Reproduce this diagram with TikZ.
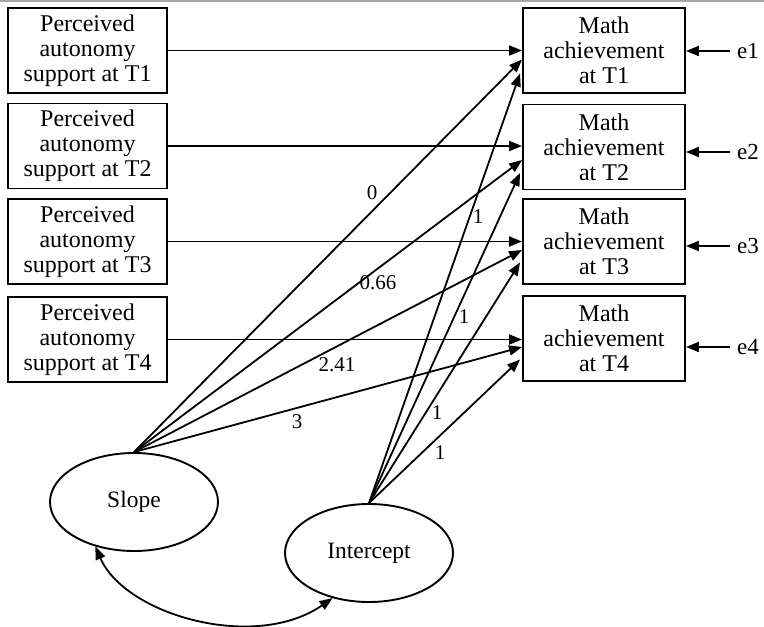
\documentclass[tikz,border=0pt]{standalone}
\usepackage{fontspec}
\setmainfont{Liberation Serif}
\usetikzlibrary{arrows.meta,shapes.geometric}
\begin{document}
\begin{tikzpicture}[x=1pt,y=-1pt,
  box/.style={draw,line width=1.9pt,minimum height=85pt,inner sep=0pt,align=center,
    font=\rmfamily\fontsize{24}{25}\selectfont},
  lbox/.style={box,minimum width=159pt},
  rbox/.style={box,minimum width=162pt},
  latent/.style={draw,ellipse,line width=1.9pt,minimum width=168pt,minimum height=98pt,
    inner sep=0pt,font=\rmfamily\fontsize{23.5}{25}\selectfont},
  arr/.style={-{Triangle[length=13pt,width=10pt]},line width=1.8pt},
  dblarr/.style={{Triangle[length=13pt,width=10pt]}-{Triangle[length=13pt,width=10pt]},line width=1.8pt},
  coef/.style={inner sep=0pt,font=\rmfamily\fontsize{21}{24}\selectfont},
  elab/.style={inner sep=0pt,font=\rmfamily\fontsize{23}{25}\selectfont,anchor=west}
]
\useasboundingbox (0,0) rectangle (764,627);
\draw[gray!70,line width=2pt] (0,1) -- (764,1);

% left boxes
\node[lbox] (L1) at (87.5,50.5) {Perceived\\autonomy\\support at T1};
\node[lbox] (L2) at (87.5,146) {Perceived\\autonomy\\support at T2};
\node[lbox] (L3) at (87.5,241.5) {Perceived\\autonomy\\support at T3};
\node[lbox] (L4) at (87.5,339.5) {Perceived\\autonomy\\support at T4};

% right boxes
\node[rbox] (R1) at (604,50.5) {Math\\achievement\\at T1};
\node[rbox] (R2) at (604,147) {Math\\achievement\\at T2};
\node[rbox] (R3) at (604,241.5) {Math\\achievement\\at T3};
\node[rbox] (R4) at (604,338.5) {Math\\achievement\\at T4};

% latent variables
\node[latent] (S) at (134,502) {Slope};
\node[latent] (I) at (369,553) {Intercept};

% horizontal paths
\draw[arr] (L1.east) -- (L1.east -| R1.west);
\draw[arr] (L2.east) -- (L2.east -| R2.west);
\draw[arr] (L3.east) -- (L3.east -| R3.west);
\draw[arr] (L4.east) -- (L4.east -| R4.west);

% slope paths
\draw[arr] (S.north) -- ([yshift=-9pt]R1.west);
\draw[arr] (S.north) -- ([yshift=-13pt]R2.west);
\draw[arr] (S.north) -- ([yshift=-8.5pt]R3.west);
\draw[arr] (S.north) -- ([yshift=-8.5pt]R4.west);

% intercept paths
\draw[arr] (I.north) -- ([xshift=-2pt,yshift=-23pt]R1.west);
\draw[arr] (I.north) -- ([xshift=-2pt,yshift=-26pt]R2.west);
\draw[arr] (I.north) -- ([xshift=-2pt,yshift=-21pt]R3.west);
\draw[arr] (I.north) -- ([xshift=-2pt,yshift=-21pt]R4.west);

% coefficients
\node[coef] (c0) at (372,193) {0};
\node[coef] (c066) at (378,283) {0.66};
\node[coef] (c241) at (337,365) {2.41};
\node[coef] (c3) at (297,422) {3};
\node[coef] (i1) at (478,217) {1};
\node[coef] (i2) at (464,317) {1};
\node[coef] (i3) at (437,413) {1};
\node[coef] (i4) at (440,453) {1};

% errors
\node[elab] (e1) at (737,51) {e1};
\node[elab] (e2) at (737,152) {e2};
\node[elab] (e3) at (737,246) {e3};
\node[elab] (e4) at (737,347) {e4};
\draw[arr] ([xshift=-7pt]e1.west) -- (e1.west -| R1.east);
\draw[arr] ([xshift=-7pt]e2.west) -- (e2.west -| R2.east);
\draw[arr] ([xshift=-7pt]e3.west) -- (e3.west -| R3.east);
\draw[arr] ([xshift=-7pt]e4.west) -- (e4.west -| R4.east);

% covariance
\draw[dblarr] (S.229) .. controls (125,615) and (255,652) .. (I.231);
\end{tikzpicture}
\end{document}
